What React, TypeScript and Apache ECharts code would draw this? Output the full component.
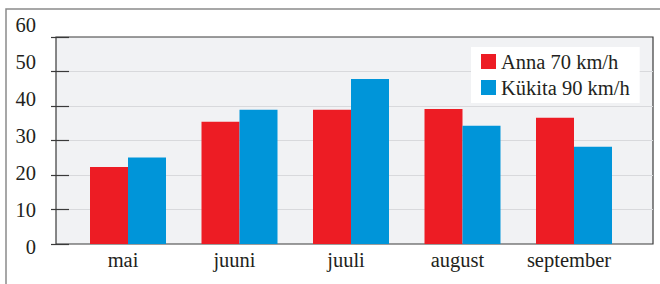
import React, { useEffect, useRef } from "react";
import * as echarts from "echarts";

const categories = ["mai", "juuni", "juuli", "august", "september"];
const annaValues = [22.3, 35.4, 38.9, 39.1, 36.6];
const kukitaValues = [25.1, 38.9, 47.8, 34.3, 28.2];
const seriesNames = ["Anna 70 km/h", "Kükita 90 km/h"];
const yMin = 0;
const yMax = 60;
const yInterval = 10;

const FONT = "Liberation Serif";
const TEXT = "#231f20";
const FS = 20.5;

export default function App() {
  const ref = useRef<HTMLDivElement>(null);
  useEffect(() => {
    if (!ref.current) return;
    const chart = echarts.init(ref.current, undefined, { renderer: "svg" });
    chart.setOption({
      animation: false,
      textStyle: { fontFamily: FONT, color: TEXT },
      graphic: [
        {
          type: "rect",
          z: -10,
          silent: true,
          shape: { x: 6, y: 9, width: 720, height: 320 },
          style: { fill: "none", stroke: "#8a8a8a", lineWidth: 1.5 },
        },
      ],
      grid: [
        {
          left: 56,
          top: 37,
          width: 597,
          height: 207,
          show: true,
          backgroundColor: "#f1f2f4",
          borderColor: "#3a3a3a",
          borderWidth: 1.2,
        },
        { left: 72.25, top: 37, width: 557.5, height: 207 },
        { left: 56, top: 25, width: 10, height: 222 },
      ],
      xAxis: [
        { gridIndex: 0, type: "category", data: categories, show: false },
        {
          gridIndex: 1,
          type: "category",
          data: categories,
          axisLine: { show: false },
          axisTick: { show: false },
          axisLabel: {
            fontFamily: FONT,
            fontSize: FS,
            color: TEXT,
            margin: 5,
            padding: [0, 10, 0, 0],
          },
        },
        { gridIndex: 2, type: "category", data: categories, show: false },
      ],
      yAxis: [
        {
          gridIndex: 0,
          type: "value",
          min: yMin,
          max: yMax,
          interval: yInterval,
          axisLine: { show: false },
          axisLabel: { show: false },
          axisTick: {
            show: true,
            inside: true,
            length: 13,
            lineStyle: { color: "#3a3a3a", width: 1.2 },
          },
          splitLine: {
            show: true,
            showMinLine: false,
            showMaxLine: false,
            lineStyle: { color: "#d8d9dc", width: 1.2 },
          },
        },
        {
          gridIndex: 0,
          type: "value",
          position: "left",
          min: yMin,
          max: yMax,
          interval: yInterval,
          axisLine: { show: false },
          axisLabel: { show: false },
          axisTick: {
            show: true,
            inside: false,
            length: 5,
            lineStyle: { color: "#3a3a3a", width: 1.2 },
          },
          splitLine: { show: false },
        },
        { gridIndex: 1, type: "value", min: yMin, max: yMax, show: false },
        {
          gridIndex: 2,
          type: "value",
          min: yMin,
          max: yMax,
          interval: yInterval,
          axisLine: { show: false },
          axisTick: { show: false },
          splitLine: { show: false },
          axisLabel: {
            fontFamily: FONT,
            fontSize: FS,
            color: TEXT,
            margin: 20,
          },
        },
      ],
      legend: {
        data: seriesNames,
        orient: "vertical",
        left: 471,
        top: 47,
        backgroundColor: "#ffffff",
        padding: [4, 10, 5, 10],
        itemWidth: 15,
        itemHeight: 15,
        itemGap: 5,
        icon: "rect",
        textStyle: { fontFamily: FONT, fontSize: FS, color: TEXT },
      },
      series: [
        {
          name: seriesNames[0],
          type: "bar",
          xAxisIndex: 1,
          yAxisIndex: 2,
          data: annaValues,
          barWidth: 38,
          barGap: "0%",
          itemStyle: { color: "#ed1c24" },
        },
        {
          name: seriesNames[1],
          type: "bar",
          xAxisIndex: 1,
          yAxisIndex: 2,
          data: kukitaValues,
          barWidth: 38,
          barGap: "0%",
          itemStyle: { color: "#0095d9" },
        },
      ],
    });
    return () => chart.dispose();
  }, []);
  return (
    <div
      ref={ref}
      style={{ position: "absolute", left: 0, top: 0, width: 660, height: 284, background: "#fff" }}
    />
  );
}
